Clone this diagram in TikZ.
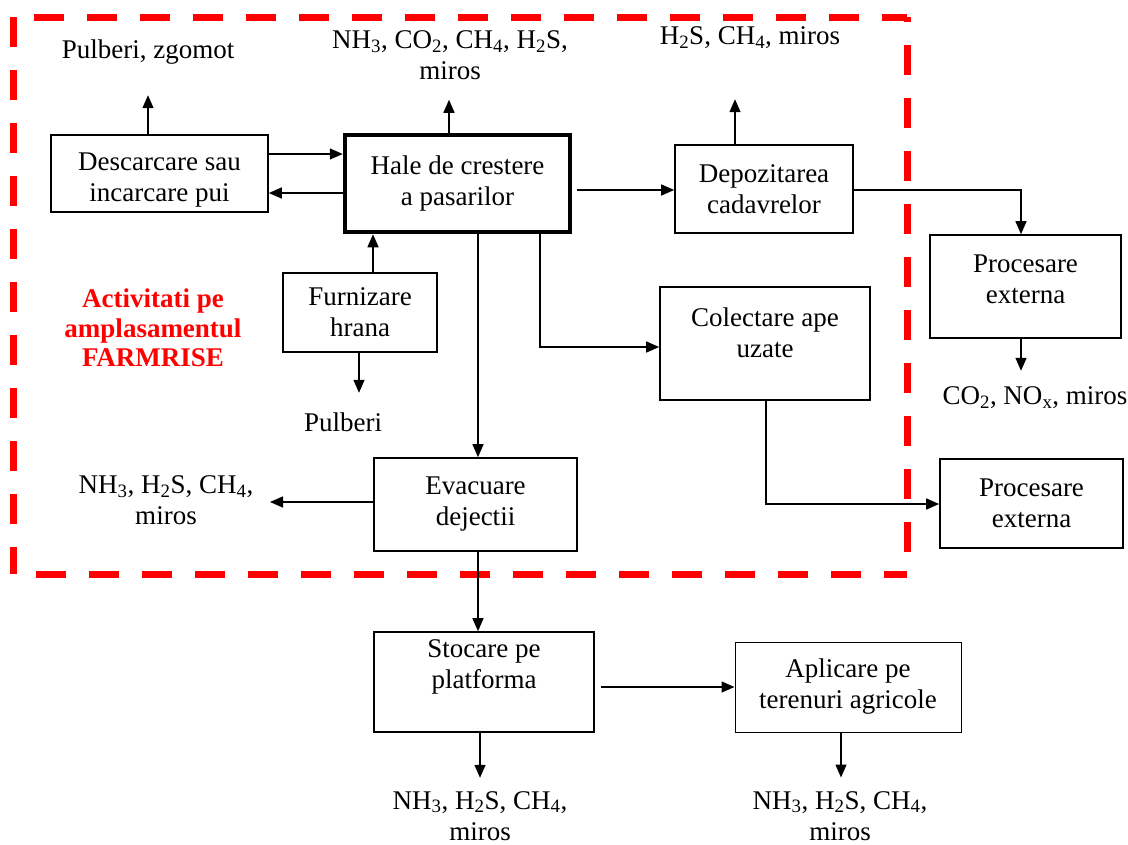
\documentclass[tikz,border=0pt]{standalone}
\usepackage{fontspec}
\setmainfont{Liberation Serif}
\usetikzlibrary{arrows.meta}
\begin{document}
\begin{tikzpicture}[x=1pt,y=-1pt,
  every node/.style={font=\fontsize{27}{31}\selectfont, align=center, inner sep=0pt},
  box/.style={draw, line width=1.6pt, rectangle},
  thickbox/.style={draw, line width=4.5pt, rectangle},
  thinbox/.style={draw, line width=1pt, rectangle},
  arr/.style={line width=1.4pt, -{Triangle[length=13pt,width=11pt]}},
  redline/.style={draw=red, line width=7pt, dash pattern=on 30pt off 23pt},
  lbl/.style={text=black},
  redlbl/.style={text=red, font=\fontsize{27}{29.5}\selectfont\bfseries}
]
\useasboundingbox (0,0) rectangle (1128,844);

% dashed site border
\draw[redline, dash phase=32pt] (13,17) -- (907,17);
\draw[redline, dash phase=0pt] (13,17) -- (13,574);
\draw[redline, dash phase=25pt] (907,17) -- (907,574);
\draw[redline, dash phase=30pt] (13,574) -- (907,574);

% boxes
\node[box, minimum width=217pt, minimum height=77pt, text height=56pt, text depth=0pt] (desc) at (159.5,173.5) {Descarcare sau\\incarcare pui};
\node[thickbox, minimum width=225pt, minimum height=97pt] (hale) at (457.5,183.5) {Hale de crestere\\a pasarilor};
\node[box, minimum width=178pt, minimum height=88pt] (depo) at (764,189) {Depozitarea\\cadavrelor};
\node[box, minimum width=191pt, minimum height=103pt, text depth=14pt] (proc1) at (1025.5,286.5) {Procesare\\externa};
\node[box, minimum width=210pt, minimum height=113pt, text depth=22pt] (colec) at (765,343.5) {Colectare ape\\uzate};
\node[box, minimum width=154pt, minimum height=79pt] (furn) at (360,312.5) {Furnizare\\hrana};
\node[box, minimum width=203pt, minimum height=93pt] (evac) at (475.5,504.5) {Evacuare\\dejectii};
\node[box, minimum width=183pt, minimum height=89pt] (proc2) at (1031.5,503.5) {Procesare\\externa};
\node[box, minimum width=220pt, minimum height=100pt, text depth=36pt] (stoc) at (484,682) {Stocare pe\\platforma};
\node[thinbox, minimum width=226pt, minimum height=90pt] (apl) at (848,687) {Aplicare pe\\terenuri agricole};

% emission labels
\node[lbl] (pz) at (148,52) {Pulberi, zgomot};
\node[lbl] (eh) at (450,55) {NH\textsubscript{3}, CO\textsubscript{2}, CH\textsubscript{4}, H\textsubscript{2}S,\\miros};
\node[lbl] (ed) at (750,38) {H\textsubscript{2}S, CH\textsubscript{4}, miros};
\node[lbl] (ep) at (1035,398) {CO\textsubscript{2}, NO\textsubscript{x}, miros};
\node[lbl] (ef) at (343,422) {Pulberi};
\node[lbl] (ee) at (166,500) {NH\textsubscript{3}, H\textsubscript{2}S, CH\textsubscript{4},\\miros};
\node[lbl, anchor=base] (es) at (480,840) {NH\textsubscript{3}, H\textsubscript{2}S, CH\textsubscript{4},\\miros};
\node[lbl, anchor=base] (ea) at (840,840) {NH\textsubscript{3}, H\textsubscript{2}S, CH\textsubscript{4},\\miros};
\node[redlbl] (site) at (153,328) {Activitati pe\\amplasamentul\\FARMRISE};

% connectors
\draw[arr] ([xshift=-11.5pt]desc.north) -- ++(0,-39);
\draw[arr] (desc.east |- 0,154) -- (hale.west |- 0,154);
\draw[arr] (hale.west |- 0,193) -- (desc.east |- 0,193);
\draw[arr] ([xshift=-8.5pt]hale.north) -- ++(0,-33);
\draw[arr, shorten <=5pt] (hale.east |- 0,190) -- (depo.west |- 0,190);
\draw[arr] (depo.east |- 0,190) -| ([xshift=-4.5pt]proc1.north);
\draw[arr] ([xshift=-29pt]depo.north) -- ++(0,-45);
\draw[arr] ([xshift=-4.5pt]proc1.south) -- ++(0,32);
\draw[arr] (540,0 |- hale.south) |- (colec.west |- 0,347);
\draw[arr] (478,0 |- hale.south) -- (478,0 |- evac.north);
\draw[arr] (373,0 |- furn.north) -- (373,0 |- hale.south);
\draw[arr] (359,0 |- furn.south) -- ++(0,40);
\draw[arr] (evac.west |- 0,502) -- (270,502);
\draw[arr] (766,0 |- colec.south) |- (proc2.west |- 0,504);
\draw[arr] (478,0 |- evac.south) -- (478,0 |- stoc.north);
\draw[arr, shorten <=6pt] (stoc.east |- 0,687) -- (apl.west |- 0,687);
\draw[arr] (480,0 |- stoc.south) -- ++(0,45);
\draw[arr] (841,0 |- apl.south) -- ++(0,45);
\end{tikzpicture}
\end{document}
